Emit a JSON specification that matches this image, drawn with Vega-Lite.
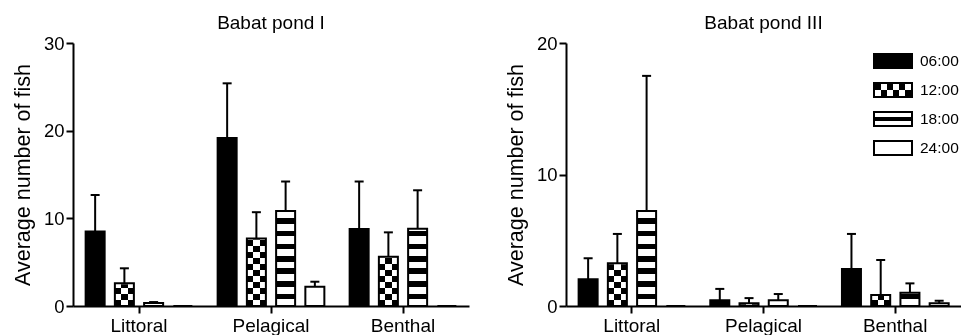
{
  "$schema": "https://vega.github.io/schema/vega-lite/v6.json",
  "padding": {"left": 12, "top": 14, "right": 0, "bottom": 0},
  "data": {"values": [
    {"pond": "Babat pond I", "site": "Littoral", "time": "06:00", "mean": 8.5, "upper": 12.66},
    {"pond": "Babat pond I", "site": "Littoral", "time": "12:00", "mean": 2.6, "upper": 4.3},
    {"pond": "Babat pond I", "site": "Littoral", "time": "18:00", "mean": 0.35, "upper": 0.45},
    {"pond": "Babat pond I", "site": "Littoral", "time": "24:00", "mean": 0, "upper": 0},
    {"pond": "Babat pond I", "site": "Pelagical", "time": "06:00", "mean": 19.15, "upper": 25.4},
    {"pond": "Babat pond I", "site": "Pelagical", "time": "12:00", "mean": 7.7, "upper": 10.7},
    {"pond": "Babat pond I", "site": "Pelagical", "time": "18:00", "mean": 10.83, "upper": 14.2},
    {"pond": "Babat pond I", "site": "Pelagical", "time": "24:00", "mean": 2.2, "upper": 2.77},
    {"pond": "Babat pond I", "site": "Benthal", "time": "06:00", "mean": 8.78, "upper": 14.2},
    {"pond": "Babat pond I", "site": "Benthal", "time": "12:00", "mean": 5.62, "upper": 8.4},
    {"pond": "Babat pond I", "site": "Benthal", "time": "18:00", "mean": 8.8, "upper": 13.2},
    {"pond": "Babat pond I", "site": "Benthal", "time": "24:00", "mean": 0, "upper": 0},
    {"pond": "Babat pond III", "site": "Littoral", "time": "06:00", "mean": 2.03, "upper": 3.63},
    {"pond": "Babat pond III", "site": "Littoral", "time": "12:00", "mean": 3.25, "upper": 5.48},
    {"pond": "Babat pond III", "site": "Littoral", "time": "18:00", "mean": 7.22, "upper": 17.5},
    {"pond": "Babat pond III", "site": "Littoral", "time": "24:00", "mean": 0, "upper": 0},
    {"pond": "Babat pond III", "site": "Pelagical", "time": "06:00", "mean": 0.43, "upper": 1.3},
    {"pond": "Babat pond III", "site": "Pelagical", "time": "12:00", "mean": 0.2, "upper": 0.6},
    {"pond": "Babat pond III", "site": "Pelagical", "time": "18:00", "mean": 0.43, "upper": 0.91},
    {"pond": "Babat pond III", "site": "Pelagical", "time": "24:00", "mean": 0, "upper": 0},
    {"pond": "Babat pond III", "site": "Benthal", "time": "06:00", "mean": 2.81, "upper": 5.48},
    {"pond": "Babat pond III", "site": "Benthal", "time": "12:00", "mean": 0.84, "upper": 3.5},
    {"pond": "Babat pond III", "site": "Benthal", "time": "18:00", "mean": 1.01, "upper": 1.72},
    {"pond": "Babat pond III", "site": "Benthal", "time": "24:00", "mean": 0.2, "upper": 0.4}
  ]},
  "spacing": 36,
  "hconcat": [
    {
      "width": 396, "height": 263,
      "title": "Babat pond I",
      "transform": [{"filter": "datum.pond === 'Babat pond I'"}],
      "encoding": {
        "x": {"field": "site", "type": "nominal", "sort": ["Littoral", "Pelagical", "Benthal"], "scale": {"paddingInner": 0.114, "paddingOuter": 0.057}, "axis": {"title": null, "labelAngle": 0}},
        "xOffset": {"field": "time", "type": "nominal", "scale": {"domain": ["06:00", "12:00", "18:00", "24:00"], "paddingInner": 0.35, "paddingOuter": 0.175}}
      },
      "layer": [
        {
          "transform": [{"filter": "datum.time === '18:00'"}],
          "mark": {"type": "bar", "stroke": null, "fill": {"gradient": "linear", "x1": 0, "y1": 1, "x2": 0, "y2": 0, "stops": [
            {"offset":0,"color":"white"},
            {"offset":0.0266,"color":"white"},{"offset":0.0266,"color":"black"},{"offset":0.0475,"color":"black"},{"offset":0.0475,"color":"white"},
            {"offset":0.0741,"color":"white"},{"offset":0.0741,"color":"black"},{"offset":0.0951,"color":"black"},{"offset":0.0951,"color":"white"},
            {"offset":0.1217,"color":"white"},{"offset":0.1217,"color":"black"},{"offset":0.1426,"color":"black"},{"offset":0.1426,"color":"white"},
            {"offset":0.1692,"color":"white"},{"offset":0.1692,"color":"black"},{"offset":0.1901,"color":"black"},{"offset":0.1901,"color":"white"},
            {"offset":0.2167,"color":"white"},{"offset":0.2167,"color":"black"},{"offset":0.2376,"color":"black"},{"offset":0.2376,"color":"white"},
            {"offset":0.2643,"color":"white"},{"offset":0.2643,"color":"black"},{"offset":0.2852,"color":"black"},{"offset":0.2852,"color":"white"},
            {"offset":0.3118,"color":"white"},{"offset":0.3118,"color":"black"},{"offset":0.3327,"color":"black"},{"offset":0.3327,"color":"white"},
            {"offset":0.3593,"color":"white"},{"offset":0.3593,"color":"black"},{"offset":0.3802,"color":"black"},{"offset":0.3802,"color":"white"},
            {"offset":0.4068,"color":"white"},{"offset":0.4068,"color":"black"},{"offset":0.4278,"color":"black"},{"offset":0.4278,"color":"white"},
            {"offset":0.4544,"color":"white"},{"offset":0.4544,"color":"black"},{"offset":0.4753,"color":"black"},{"offset":0.4753,"color":"white"},
            {"offset":0.5019,"color":"white"},{"offset":0.5019,"color":"black"},{"offset":0.5228,"color":"black"},{"offset":0.5228,"color":"white"},
            {"offset":0.5494,"color":"white"},{"offset":0.5494,"color":"black"},{"offset":0.5703,"color":"black"},{"offset":0.5703,"color":"white"},
            {"offset":0.5970,"color":"white"},{"offset":0.5970,"color":"black"},{"offset":0.6179,"color":"black"},{"offset":0.6179,"color":"white"},
            {"offset":0.6445,"color":"white"},{"offset":0.6445,"color":"black"},{"offset":0.6654,"color":"black"},{"offset":0.6654,"color":"white"},
            {"offset":0.6920,"color":"white"},{"offset":0.6920,"color":"black"},{"offset":0.7129,"color":"black"},{"offset":0.7129,"color":"white"},
            {"offset":0.7395,"color":"white"},{"offset":0.7395,"color":"black"},{"offset":0.7605,"color":"black"},{"offset":0.7605,"color":"white"},
            {"offset":0.7871,"color":"white"},{"offset":0.7871,"color":"black"},{"offset":0.8080,"color":"black"},{"offset":0.8080,"color":"white"},
            {"offset":0.8346,"color":"white"},{"offset":0.8346,"color":"black"},{"offset":0.8555,"color":"black"},{"offset":0.8555,"color":"white"},
            {"offset":0.8821,"color":"white"},{"offset":0.8821,"color":"black"},{"offset":0.9030,"color":"black"},{"offset":0.9030,"color":"white"},
            {"offset":0.9297,"color":"white"},{"offset":0.9297,"color":"black"},{"offset":0.9506,"color":"black"},{"offset":0.9506,"color":"white"},
            {"offset":0.9772,"color":"white"},{"offset":0.9772,"color":"black"},{"offset":0.9981,"color":"black"},{"offset":0.9981,"color":"white"},
            {"offset":1,"color":"white"}
          ]}},
          "encoding": {
            "y": {"datum": 30, "type": "quantitative", "title": "Average number of fish", "scale": {"domain": [0, 30], "nice": false}, "axis": {"values": [0, 10, 20, 30]}},
            "y2": {"datum": 0}
          }
        },
        {
          "transform": [{"filter": "datum.time === '12:00'"}],
          "mark": {"type": "bar", "stroke": null, "fill": {"gradient": "linear", "x1": 0, "y1": 1, "x2": 0, "y2": 0, "stops": [
            {"offset":0,"color":"black"},
            {"offset":0.0228,"color":"black"},{"offset":0.0228,"color":"white"},
            {"offset":0.0456,"color":"white"},{"offset":0.0456,"color":"black"},
            {"offset":0.0684,"color":"black"},{"offset":0.0684,"color":"white"},
            {"offset":0.0913,"color":"white"},{"offset":0.0913,"color":"black"},
            {"offset":0.1141,"color":"black"},{"offset":0.1141,"color":"white"},
            {"offset":0.1369,"color":"white"},{"offset":0.1369,"color":"black"},
            {"offset":0.1597,"color":"black"},{"offset":0.1597,"color":"white"},
            {"offset":0.1825,"color":"white"},{"offset":0.1825,"color":"black"},
            {"offset":0.2053,"color":"black"},{"offset":0.2053,"color":"white"},
            {"offset":0.2281,"color":"white"},{"offset":0.2281,"color":"black"},
            {"offset":0.2510,"color":"black"},{"offset":0.2510,"color":"white"},
            {"offset":0.2738,"color":"white"},{"offset":0.2738,"color":"black"},
            {"offset":0.2966,"color":"black"},{"offset":0.2966,"color":"white"},
            {"offset":0.3194,"color":"white"},{"offset":0.3194,"color":"black"},
            {"offset":0.3422,"color":"black"},{"offset":0.3422,"color":"white"},
            {"offset":0.3650,"color":"white"},{"offset":0.3650,"color":"black"},
            {"offset":0.3878,"color":"black"},{"offset":0.3878,"color":"white"},
            {"offset":0.4106,"color":"white"},{"offset":0.4106,"color":"black"},
            {"offset":0.4335,"color":"black"},{"offset":0.4335,"color":"white"},
            {"offset":0.4563,"color":"white"},{"offset":0.4563,"color":"black"},
            {"offset":0.4791,"color":"black"},{"offset":0.4791,"color":"white"},
            {"offset":0.5019,"color":"white"},{"offset":0.5019,"color":"black"},
            {"offset":0.5247,"color":"black"},{"offset":0.5247,"color":"white"},
            {"offset":0.5475,"color":"white"},{"offset":0.5475,"color":"black"},
            {"offset":0.5703,"color":"black"},{"offset":0.5703,"color":"white"},
            {"offset":0.5932,"color":"white"},{"offset":0.5932,"color":"black"},
            {"offset":0.6160,"color":"black"},{"offset":0.6160,"color":"white"},
            {"offset":0.6388,"color":"white"},{"offset":0.6388,"color":"black"},
            {"offset":0.6616,"color":"black"},{"offset":0.6616,"color":"white"},
            {"offset":0.6844,"color":"white"},{"offset":0.6844,"color":"black"},
            {"offset":0.7072,"color":"black"},{"offset":0.7072,"color":"white"},
            {"offset":0.7300,"color":"white"},{"offset":0.7300,"color":"black"},
            {"offset":0.7529,"color":"black"},{"offset":0.7529,"color":"white"},
            {"offset":0.7757,"color":"white"},{"offset":0.7757,"color":"black"},
            {"offset":0.7985,"color":"black"},{"offset":0.7985,"color":"white"},
            {"offset":0.8213,"color":"white"},{"offset":0.8213,"color":"black"},
            {"offset":0.8441,"color":"black"},{"offset":0.8441,"color":"white"},
            {"offset":0.8669,"color":"white"},{"offset":0.8669,"color":"black"},
            {"offset":0.8897,"color":"black"},{"offset":0.8897,"color":"white"},
            {"offset":0.9125,"color":"white"},{"offset":0.9125,"color":"black"},
            {"offset":0.9354,"color":"black"},{"offset":0.9354,"color":"white"},
            {"offset":0.9582,"color":"white"},{"offset":0.9582,"color":"black"},
            {"offset":0.9810,"color":"black"},{"offset":0.9810,"color":"white"},
            {"offset":1,"color":"white"}
          ]}},
          "encoding": {
            "y": {"datum": 30, "type": "quantitative", "title": "Average number of fish", "scale": {"domain": [0, 30], "nice": false}},
            "y2": {"datum": 0}
          }
        },
        {
          "transform": [{"filter": "datum.time === '12:00'"}],
          "mark": {"type": "bar", "stroke": null, "blend": "difference", "fill": {"gradient": "linear", "x1": 0, "y1": 0, "x2": 1, "y2": 0, "stops": [
            {"offset":0,"color":"black"},{"offset":0.3333,"color":"black"},{"offset":0.3333,"color":"white"},
            {"offset":0.6667,"color":"white"},{"offset":0.6667,"color":"black"},{"offset":1,"color":"black"}
          ]}},
          "encoding": {
            "y": {"datum": 30, "type": "quantitative", "title": "Average number of fish", "scale": {"domain": [0, 30], "nice": false}},
            "y2": {"datum": 0}
          }
        },
        {
          "transform": [{"filter": "datum.time === '12:00' || datum.time === '18:00'"}],
          "mark": {"type": "bar", "fill": "white", "stroke": "white", "strokeWidth": 2},
          "encoding": {
            "y": {"field": "mean", "type": "quantitative", "title": "Average number of fish", "scale": {"domain": [0, 30], "nice": false}},
            "y2": {"datum": 30}
          }
        },
        {
          "mark": {"type": "bar", "stroke": "black", "strokeWidth": 2},
          "encoding": {
            "y": {"field": "mean", "type": "quantitative", "title": "Average number of fish", "scale": {"domain": [0, 30], "nice": false}},
            "fill": {"condition": [{"test": "datum.time === '06:00'", "value": "black"}, {"test": "datum.time === '24:00'", "value": "white"}], "value": "transparent"}
          }
        },
        {
          "transform": [{"filter": "datum.upper > datum.mean"}],
          "mark": {"type": "rule", "color": "black", "strokeWidth": 2},
          "encoding": {
            "y": {"field": "mean", "type": "quantitative", "title": "Average number of fish", "scale": {"domain": [0, 30], "nice": false}},
            "y2": {"field": "upper"}
          }
        },
        {
          "transform": [{"filter": "datum.upper > datum.mean"}],
          "mark": {"type": "tick", "orient": "horizontal", "color": "black", "size": 9, "thickness": 2, "opacity": 1},
          "encoding": {
            "y": {"field": "upper", "type": "quantitative", "title": "Average number of fish", "scale": {"domain": [0, 30], "nice": false}}
          }
        }
      ]
    },
    {
      "width": 395, "height": 263,
      "title": "Babat pond III",
      "transform": [{"filter": "datum.pond === 'Babat pond III'"}],
      "encoding": {
        "x": {"field": "site", "type": "nominal", "sort": ["Littoral", "Pelagical", "Benthal"], "scale": {"paddingInner": 0.114, "paddingOuter": 0.057}, "axis": {"title": null, "labelAngle": 0}},
        "xOffset": {"field": "time", "type": "nominal", "scale": {"domain": ["06:00", "12:00", "18:00", "24:00"], "paddingInner": 0.35, "paddingOuter": 0.175}}
      },
      "layer": [
        {
          "transform": [{"filter": "datum.time === '18:00'"}],
          "mark": {"type": "bar", "stroke": null, "fill": {"gradient": "linear", "x1": 0, "y1": 1, "x2": 0, "y2": 0, "stops": [
            {"offset":0,"color":"white"},
            {"offset":0.0266,"color":"white"},{"offset":0.0266,"color":"black"},{"offset":0.0475,"color":"black"},{"offset":0.0475,"color":"white"},
            {"offset":0.0741,"color":"white"},{"offset":0.0741,"color":"black"},{"offset":0.0951,"color":"black"},{"offset":0.0951,"color":"white"},
            {"offset":0.1217,"color":"white"},{"offset":0.1217,"color":"black"},{"offset":0.1426,"color":"black"},{"offset":0.1426,"color":"white"},
            {"offset":0.1692,"color":"white"},{"offset":0.1692,"color":"black"},{"offset":0.1901,"color":"black"},{"offset":0.1901,"color":"white"},
            {"offset":0.2167,"color":"white"},{"offset":0.2167,"color":"black"},{"offset":0.2376,"color":"black"},{"offset":0.2376,"color":"white"},
            {"offset":0.2643,"color":"white"},{"offset":0.2643,"color":"black"},{"offset":0.2852,"color":"black"},{"offset":0.2852,"color":"white"},
            {"offset":0.3118,"color":"white"},{"offset":0.3118,"color":"black"},{"offset":0.3327,"color":"black"},{"offset":0.3327,"color":"white"},
            {"offset":0.3593,"color":"white"},{"offset":0.3593,"color":"black"},{"offset":0.3802,"color":"black"},{"offset":0.3802,"color":"white"},
            {"offset":0.4068,"color":"white"},{"offset":0.4068,"color":"black"},{"offset":0.4278,"color":"black"},{"offset":0.4278,"color":"white"},
            {"offset":0.4544,"color":"white"},{"offset":0.4544,"color":"black"},{"offset":0.4753,"color":"black"},{"offset":0.4753,"color":"white"},
            {"offset":0.5019,"color":"white"},{"offset":0.5019,"color":"black"},{"offset":0.5228,"color":"black"},{"offset":0.5228,"color":"white"},
            {"offset":0.5494,"color":"white"},{"offset":0.5494,"color":"black"},{"offset":0.5703,"color":"black"},{"offset":0.5703,"color":"white"},
            {"offset":0.5970,"color":"white"},{"offset":0.5970,"color":"black"},{"offset":0.6179,"color":"black"},{"offset":0.6179,"color":"white"},
            {"offset":0.6445,"color":"white"},{"offset":0.6445,"color":"black"},{"offset":0.6654,"color":"black"},{"offset":0.6654,"color":"white"},
            {"offset":0.6920,"color":"white"},{"offset":0.6920,"color":"black"},{"offset":0.7129,"color":"black"},{"offset":0.7129,"color":"white"},
            {"offset":0.7395,"color":"white"},{"offset":0.7395,"color":"black"},{"offset":0.7605,"color":"black"},{"offset":0.7605,"color":"white"},
            {"offset":0.7871,"color":"white"},{"offset":0.7871,"color":"black"},{"offset":0.8080,"color":"black"},{"offset":0.8080,"color":"white"},
            {"offset":0.8346,"color":"white"},{"offset":0.8346,"color":"black"},{"offset":0.8555,"color":"black"},{"offset":0.8555,"color":"white"},
            {"offset":0.8821,"color":"white"},{"offset":0.8821,"color":"black"},{"offset":0.9030,"color":"black"},{"offset":0.9030,"color":"white"},
            {"offset":0.9297,"color":"white"},{"offset":0.9297,"color":"black"},{"offset":0.9506,"color":"black"},{"offset":0.9506,"color":"white"},
            {"offset":0.9772,"color":"white"},{"offset":0.9772,"color":"black"},{"offset":0.9981,"color":"black"},{"offset":0.9981,"color":"white"},
            {"offset":1,"color":"white"}
          ]}},
          "encoding": {
            "y": {"datum": 20, "type": "quantitative", "title": "Average number of fish", "scale": {"domain": [0, 20], "nice": false}, "axis": {"values": [0, 10, 20]}},
            "y2": {"datum": 0}
          }
        },
        {
          "transform": [{"filter": "datum.time === '12:00'"}],
          "mark": {"type": "bar", "stroke": null, "fill": {"gradient": "linear", "x1": 0, "y1": 1, "x2": 0, "y2": 0, "stops": [
            {"offset":0,"color":"black"},
            {"offset":0.0228,"color":"black"},{"offset":0.0228,"color":"white"},
            {"offset":0.0456,"color":"white"},{"offset":0.0456,"color":"black"},
            {"offset":0.0684,"color":"black"},{"offset":0.0684,"color":"white"},
            {"offset":0.0913,"color":"white"},{"offset":0.0913,"color":"black"},
            {"offset":0.1141,"color":"black"},{"offset":0.1141,"color":"white"},
            {"offset":0.1369,"color":"white"},{"offset":0.1369,"color":"black"},
            {"offset":0.1597,"color":"black"},{"offset":0.1597,"color":"white"},
            {"offset":0.1825,"color":"white"},{"offset":0.1825,"color":"black"},
            {"offset":0.2053,"color":"black"},{"offset":0.2053,"color":"white"},
            {"offset":0.2281,"color":"white"},{"offset":0.2281,"color":"black"},
            {"offset":0.2510,"color":"black"},{"offset":0.2510,"color":"white"},
            {"offset":0.2738,"color":"white"},{"offset":0.2738,"color":"black"},
            {"offset":0.2966,"color":"black"},{"offset":0.2966,"color":"white"},
            {"offset":0.3194,"color":"white"},{"offset":0.3194,"color":"black"},
            {"offset":0.3422,"color":"black"},{"offset":0.3422,"color":"white"},
            {"offset":0.3650,"color":"white"},{"offset":0.3650,"color":"black"},
            {"offset":0.3878,"color":"black"},{"offset":0.3878,"color":"white"},
            {"offset":0.4106,"color":"white"},{"offset":0.4106,"color":"black"},
            {"offset":0.4335,"color":"black"},{"offset":0.4335,"color":"white"},
            {"offset":0.4563,"color":"white"},{"offset":0.4563,"color":"black"},
            {"offset":0.4791,"color":"black"},{"offset":0.4791,"color":"white"},
            {"offset":0.5019,"color":"white"},{"offset":0.5019,"color":"black"},
            {"offset":0.5247,"color":"black"},{"offset":0.5247,"color":"white"},
            {"offset":0.5475,"color":"white"},{"offset":0.5475,"color":"black"},
            {"offset":0.5703,"color":"black"},{"offset":0.5703,"color":"white"},
            {"offset":0.5932,"color":"white"},{"offset":0.5932,"color":"black"},
            {"offset":0.6160,"color":"black"},{"offset":0.6160,"color":"white"},
            {"offset":0.6388,"color":"white"},{"offset":0.6388,"color":"black"},
            {"offset":0.6616,"color":"black"},{"offset":0.6616,"color":"white"},
            {"offset":0.6844,"color":"white"},{"offset":0.6844,"color":"black"},
            {"offset":0.7072,"color":"black"},{"offset":0.7072,"color":"white"},
            {"offset":0.7300,"color":"white"},{"offset":0.7300,"color":"black"},
            {"offset":0.7529,"color":"black"},{"offset":0.7529,"color":"white"},
            {"offset":0.7757,"color":"white"},{"offset":0.7757,"color":"black"},
            {"offset":0.7985,"color":"black"},{"offset":0.7985,"color":"white"},
            {"offset":0.8213,"color":"white"},{"offset":0.8213,"color":"black"},
            {"offset":0.8441,"color":"black"},{"offset":0.8441,"color":"white"},
            {"offset":0.8669,"color":"white"},{"offset":0.8669,"color":"black"},
            {"offset":0.8897,"color":"black"},{"offset":0.8897,"color":"white"},
            {"offset":0.9125,"color":"white"},{"offset":0.9125,"color":"black"},
            {"offset":0.9354,"color":"black"},{"offset":0.9354,"color":"white"},
            {"offset":0.9582,"color":"white"},{"offset":0.9582,"color":"black"},
            {"offset":0.9810,"color":"black"},{"offset":0.9810,"color":"white"},
            {"offset":1,"color":"white"}
          ]}},
          "encoding": {
            "y": {"datum": 20, "type": "quantitative", "title": "Average number of fish", "scale": {"domain": [0, 20], "nice": false}},
            "y2": {"datum": 0}
          }
        },
        {
          "transform": [{"filter": "datum.time === '12:00'"}],
          "mark": {"type": "bar", "stroke": null, "blend": "difference", "fill": {"gradient": "linear", "x1": 0, "y1": 0, "x2": 1, "y2": 0, "stops": [
            {"offset":0,"color":"black"},{"offset":0.3333,"color":"black"},{"offset":0.3333,"color":"white"},
            {"offset":0.6667,"color":"white"},{"offset":0.6667,"color":"black"},{"offset":1,"color":"black"}
          ]}},
          "encoding": {
            "y": {"datum": 20, "type": "quantitative", "title": "Average number of fish", "scale": {"domain": [0, 20], "nice": false}},
            "y2": {"datum": 0}
          }
        },
        {
          "transform": [{"filter": "datum.time === '12:00' || datum.time === '18:00'"}],
          "mark": {"type": "bar", "fill": "white", "stroke": "white", "strokeWidth": 2},
          "encoding": {
            "y": {"field": "mean", "type": "quantitative", "title": "Average number of fish", "scale": {"domain": [0, 20], "nice": false}},
            "y2": {"datum": 20}
          }
        },
        {
          "mark": {"type": "bar", "stroke": "black", "strokeWidth": 2},
          "encoding": {
            "y": {"field": "mean", "type": "quantitative", "title": "Average number of fish", "scale": {"domain": [0, 20], "nice": false}},
            "fill": {"condition": [{"test": "datum.time === '06:00'", "value": "black"}, {"test": "datum.time === '24:00'", "value": "white"}], "value": "transparent"}
          }
        },
        {
          "transform": [{"filter": "datum.upper > datum.mean"}],
          "mark": {"type": "rule", "color": "black", "strokeWidth": 2},
          "encoding": {
            "y": {"field": "mean", "type": "quantitative", "title": "Average number of fish", "scale": {"domain": [0, 20], "nice": false}},
            "y2": {"field": "upper"}
          }
        },
        {
          "transform": [{"filter": "datum.upper > datum.mean"}],
          "mark": {"type": "tick", "orient": "horizontal", "color": "black", "size": 9, "thickness": 2, "opacity": 1},
          "encoding": {
            "y": {"field": "upper", "type": "quantitative", "title": "Average number of fish", "scale": {"domain": [0, 20], "nice": false}}
          }
        },
        {
          "transform": [{"filter": "false"}],
          "mark": {"type": "point", "filled": true, "color": "black", "opacity": 1},
          "encoding": {
            "y": {"field": "mean", "type": "quantitative", "title": "Average number of fish", "scale": {"domain": [0, 20], "nice": false}},
            "shape": {
              "field": "time", "type": "nominal",
              "scale": {
                "domain": ["06:00", "12:00", "18:00", "24:00"],
                "range": [
                  "M-1,-0.4H1V0.4H-1Z",
                  "M-1,-0.4H1V0.4H-1Z M-0.9,-0.3V0.3H0.9V-0.3Z M-0.9,-0.3H-0.6V0H-0.9Z M-0.3,-0.3H0V0H-0.3Z M0.3,-0.3H0.6V0H0.3Z M-0.6,0H-0.3V0.3H-0.6Z M0,0H0.3V0.3H0Z M0.6,0H0.9V0.3H0.6Z",
                  "M-1,-0.4H1V0.4H-1Z M-0.9,-0.3V0.3H0.9V-0.3Z M-0.9,-0.1H0.9V0.1H-0.9Z",
                  "M-1,-0.4H1V0.4H-1Z M-0.9,-0.3V0.3H0.9V-0.3Z"
                ]
              },
              "legend": {
                "title": null, "orient": "none", "legendX": 800, "legendY": -2,
                "symbolSize": 1600, "symbolStrokeWidth": 0, "symbolFillColor": "black", "symbolOpacity": 1,
                "labelFontSize": 15.5, "labelOffset": 7, "rowPadding": -7, "labelColor": "black", "labelFont": "Liberation Sans"
              }
            }
          }
        }
      ]
    }
  ],
  "config": {
    "font": "Liberation Sans",
    "view": {"stroke": null},
    "title": {"fontSize": 19, "fontWeight": "normal", "color": "black", "font": "Liberation Sans", "offset": 1},
    "axis": {
      "grid": false, "zindex": 1, "domainColor": "black", "domainWidth": 2, "tickColor": "black", "tickWidth": 2, "tickSize": 7,
      "labelColor": "black", "labelFont": "Liberation Sans", "labelFontSize": 18.5,
      "titleColor": "black", "titleFont": "Liberation Sans", "titleFontSize": 21.5, "titleFontWeight": "normal"
    },
    "axisX": {"labelPadding": 3, "labelFontSize": 19},
    "axisY": {"labelPadding": 2, "titlePadding": 9}
  }
}
